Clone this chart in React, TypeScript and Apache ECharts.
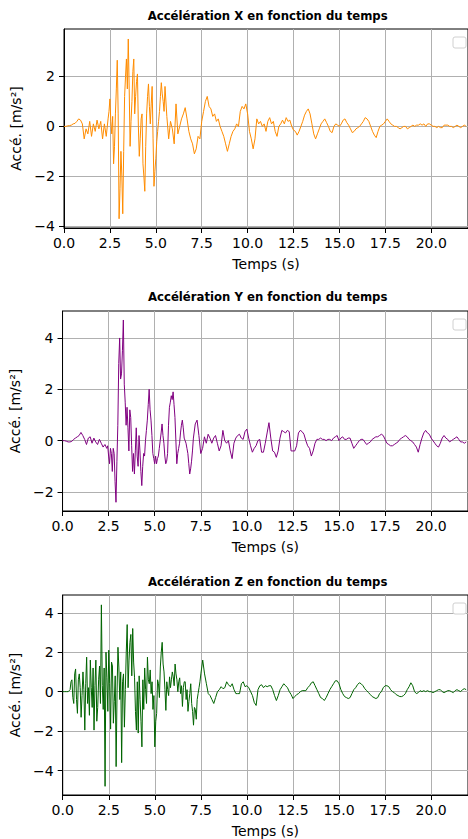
import React, { useEffect, useRef } from "react";
import * as echarts from "echarts";

const DT = 0.1;
const X_TICKS = [0, 2.5, 5, 7.5, 10, 12.5, 15, 17.5, 20];
const TITLES = [
  "Accélération X en fonction du temps",
  "Accélération Y en fonction du temps",
  "Accélération Z en fonction du temps",
];
const Y_TICKS_X = [-4, -2, 0, 2];
const Y_TICKS_Y = [-2, 0, 2, 4];
const Y_TICKS_Z = [-4, -2, 0, 2, 4];

// one row per second, samples every 0.1 s (t = 0.0 … 21.9)
const ACC_X = [
  0, 0, 0.02, 0.03, 0.05, 0.1, 0.12, 0.2, 0.3, 0.25,
  0.1, -0.5, -0.1, -0.3, 0.2, -0.4, 0.1, -0.2, 0.25, -0.1,
  0.2, -0.5, 0.1, -0.4, 0.3, 1.1, -0.3, -1.5, 0.5, 2.65,
  -3.7, -1.0, -3.5, 1.2, 2.7, 3.5, -0.8, 1.0, 2.7, 1.2,
  2.1, -1.2, 0.3, -1.5, -2.6, 0.5, 1.7, 0.1, 1.6, -2.4,
  -1.3, -0.2, 0.6, 1.75, 1.0, 1.6, 0.4, -0.5, 0.2, -0.1,
  -0.7, 0.9, -0.3, 0.0, 0.3, 0.5, 0.75, 0.3, -0.2, -0.5,
  -0.7, -1.1, -0.9, -0.4, -0.5, 0.2, 0.6, 1.0, 1.2, 0.8,
  0.7, 0.4, 0.5, 0.2, 0.3, 0.0, -0.2, -0.4, -0.7, -1.0,
  -0.7, -0.4, -0.2, -0.1, 0.1, 0.0, 0.6, 0.8, 0.7, 0.9,
  0.5, -0.2, -0.5, -0.9, -0.5, 0.3, 0.1, 0.2, 0.0, 0.1,
  -0.2, 0.2, 0.35, 0.1, 0.2, -0.2, -0.4, 0.0, 0.1, 0.25,
  0.1, 0.35, 0.2, 0.25, 0.0, -0.15, -0.2, -0.35, -0.2, 0.0,
  0.2, 0.45, 0.6, 0.7, 0.5, 0.1, -0.3, -0.5, -0.3, -0.1,
  0.1, 0.2, 0.3, 0.15, 0.0, -0.2, -0.25, 0.0, 0.1, 0.05,
  0.0, 0.1, 0.25, 0.3, 0.15, 0.05, -0.1, -0.25, -0.2, -0.1,
  -0.05, 0.0, 0.1, 0.2, 0.35, 0.3, 0.2, 0.0, -0.2, -0.35,
  -0.45, -0.2, 0.0, 0.05, 0.1, 0.2, 0.3, 0.2, 0.1, 0.05,
  0.0, 0.0, -0.05, -0.1, -0.05, 0.0, 0.0, -0.1, -0.05, 0.0,
  0.05, 0.0, 0.05, 0.05, 0.1, 0.05, 0.1, 0.0, 0.1, 0.1,
  0.05, 0.0, 0.0, -0.05, 0.0, -0.05, -0.05, 0.05, 0.05, 0.05,
  0.0, 0.0, -0.05, 0.0, 0.05, 0.0, -0.05, 0.0, 0.05, 0.0,
];
// extra in-between samples (t = 2.45 … 5.45, every 0.1 s) in the busy part
const ACC_X_MID_START = 2.45;
const ACC_X_MID = [
  0.6, 0.2, 0.4, -0.8, 1.5, 0.5,
  -2.5, -2.0, -1.0, 2.0, 1.5, 1.5, 0.2, 2.2, 0.5, 1.8,
  0.0, -0.5, 0.5, -2.0, -0.8, 1.2, 0.8, 0.9, -0.5, -1.8,
  -0.6, 0.2, 1.2, 1.3, 0.6,
];

const ACC_Y = [
  0, 0, -0.02, -0.05, -0.05, -0.03, 0.05, 0.1, 0.15, 0.2,
  0.32, 0.2, 0.05, -0.15, 0.1, 0.15, -0.1, 0.1, -0.05, -0.15,
  0.05, -0.1, -0.25, -0.15, -0.3, -0.6, -0.3, -1.2, -0.5, -2.4,
  0.6, 4.0, 2.6, 4.7, 1.5, 1.3, -0.4, 0.9, -1.2, -1.3,
  0.5, -1.0, -0.4, -1.75, -0.5, 0.0, 0.8, 2.0, 0.8, -0.5,
  -0.9, -0.9, -0.6, 0.0, 0.65, -0.1, -0.9, -0.5, 1.3, 1.75,
  1.9, 0.9, -0.9, -0.3, 0.3, 0.8, 0.1, -0.1, -0.5, -1.3,
  -0.8, 0.1, 0.65, 0.8, 0.2, -0.5, -0.3, 0.15, -0.1, 0.25,
  0.1, -0.1, 0.1, 0.2, -0.1, -0.4, -0.2, 0.4, 0.0, -0.1,
  0.0, -0.4, -0.7, -0.1, 0.1, 0.2, 0.25, 0.1, 0.05, 0.35,
  0.45, 0.1, -0.2, -0.45, -0.3, -0.2, 0.0, 0.05, -0.45, -0.45,
  -0.1, 0.3, 0.7, 0.1, -0.4, -0.45, -0.65, -0.4, 0.1, 0.4,
  0.35, 0.3, 0.4, 0.35, -0.4, -0.4, -0.4, -0.2, 0.3, 0.4,
  0.35, 0.25, 0.0, -0.2, -0.3, -0.6, -0.4, -0.1, 0.05, 0.05,
  0.1, 0.05, 0.05, 0.0, 0.05, 0.05, 0.0, 0.1, 0.15, 0.2,
  0.0, 0.1, 0.15, 0.05, 0.05, 0.1, 0.1, -0.1, -0.3, -0.2,
  -0.1, 0.0, 0.05, 0.05, -0.05, -0.15, -0.1, -0.05, 0.05, 0.1,
  0.15, 0.15, 0.2, 0.25, 0.2, 0.05, -0.1, -0.15, -0.2, -0.2,
  -0.15, -0.1, -0.05, 0.05, 0.1, 0.15, 0.2, 0.15, 0.05, 0.0,
  -0.05, -0.15, -0.25, -0.45, -0.15, 0.1, 0.3, 0.4, 0.3, 0.25,
  0.1, 0.0, -0.1, -0.2, -0.25, -0.1, 0.1, 0.2, 0.1, 0.05,
  -0.05, 0.0, 0.05, 0.1, 0.15, 0.05, -0.05, -0.05, -0.1, -0.05,
];
const ACC_Y_MID_START = 2.45;
const ACC_Y_MID = [
  -0.2, -0.9, -0.5, -0.3, -1.6, -0.8,
  3.0, 2.4, 3.5, 2.2, 0.6, 0.5, 1.2, -0.2, -0.5, -0.4,
  -0.6, 0.2, -1.2, -1.0, -0.6, 0.4, 1.4, 1.2, 0.2, -0.7,
  -0.6, -0.7, -0.3, 0.3, 0.2, -0.6, -0.8, 0.6, 1.5, 1.6,
  1.4, 0.0, -0.5, -0.1, 0.6, 0.5, 0.0, -0.3, -0.9, -1.1,
  -0.4,
];

const ACC_Z = [
  0, 0, 0, 0, 0.1, 0.6, -0.6, 1.15, -1.1, 0.9,
  -1.3, 1.0, -1.95, 1.75, 0.2, 1.6, -0.8, -1.95, 1.6, -0.8,
  1.3, 4.4, -0.9, -4.8, 0.7, 2.1, -1.9, 1.3, -0.5, -3.8,
  2.25, -0.4, -3.6, 0.9, 0.1, 3.4, 1.6, 2.9, 3.2, 0.7,
  -1.95, -2.1, -0.4, -2.8, -0.9, 0.1, 1.75, 0.4, -0.1, -0.9,
  -2.8, -1.1, 0.4, 1.25, 2.5, 1.0, -0.95, 0.1, 0.75, 0.6,
  0.75, 1.4, 0.6, 0.5, -0.1, -0.75, 0.5, -0.4, -1.0, -0.1,
  -0.6, -1.7, -0.9, -0.4, 0.2, 0.9, 1.6, 0.9, 0.4, -0.1,
  -0.2, -0.4, -0.6, -0.3, 0.0, 0.1, 0.25, 0.15, 0.2, 0.5,
  0.35, 0.25, 0.4, 0.1, -0.1, -0.1, -0.1, 0.4, 0.5, 0.25,
  0.3, 0.2, 0.0, -0.2, -0.55, -0.7, 0.1, 0.3, 0.35, 0.2,
  0.3, 0.25, 0.3, 0.3, 0.1, -0.2, -0.45, -0.2, 0.1, 0.25,
  0.4, 0.3, 0.2, 0.0, -0.15, -0.35, -0.25, -0.15, -0.1, 0.0,
  0.05, 0.05, 0.05, 0.2, 0.3, 0.45, 0.5, 0.3, 0.1, -0.1,
  -0.3, -0.35, -0.45, -0.3, -0.1, 0.1, 0.25, 0.4, 0.55, 0.55,
  0.4, 0.1, -0.1, -0.25, -0.3, -0.35, -0.3, -0.1, 0.1, 0.2,
  0.35, 0.45, 0.4, 0.3, 0.15, 0.05, -0.05, -0.15, -0.25, -0.3,
  -0.35, -0.3, -0.1, 0.0, 0.2, 0.3, 0.3, 0.25, 0.1, 0.0,
  -0.05, -0.15, -0.2, -0.25, -0.25, -0.2, -0.1, 0.1, 0.25, 0.45,
  0.3, 0.0, -0.1, -0.05, 0.05, 0.0, 0.05, 0.0, 0.05, 0.0,
  0.0, -0.05, 0.0, 0.05, 0.1, 0.1, 0.0, -0.05, 0.0, 0.05,
  0.05, 0.0, -0.05, 0.05, 0.1, 0.05, 0.0, 0.1, 0.15, 0.1,
];
const ACC_Z_MID_START = 0.45;
const ACC_Z_MID = [
  0.5, -0.3, 0.9, -0.4, 0.6, 0.2,
  -0.2, 0.1, 0.4, -0.6, -1.2, 0.2, 1.2, 0.3, -1.5, 0.6,
  -0.6, 0.3, 1.2, 2.0, -1.0, 0.4, 1.5, -1.6, 0.8, 0.0,
  1.2, 1.0, 0.5, -1.8, 2.0, 0.2, 2.5, 0.8, 1.5, -1.0,
  0.5, 0.8, -1.5, 0.6, 1.2, -0.6, 0.6, 1.1, 0.5, -0.2,
  -1.5, 0.6, -0.3, 2.0, 1.4, 0.1, 0.5, -0.2, 0.2, 1.0,
  0.3, 0.9, 0.0, 0.7, 0.3, 0.2, 0.5, 0.1, -0.5, 0.4,
  -1.0, -0.8, -1.4, -0.1, 0.5,
];

const FONT = "DejaVu Sans";

function buildPairs(base: number[], mid: number[], midStart: number): number[][] {
  const pts: number[][] = base.map((v, k) => [Math.round(k * DT * 100) / 100, v]);
  mid.forEach((v, k) => pts.push([Math.round((midStart + k * DT) * 100) / 100, v]));
  pts.sort((a, b) => a[0] - b[0]);
  return pts;
}

const PANELS = [
  { values: ACC_X, mid: ACC_X_MID, midStart: ACC_X_MID_START, color: "#ff8c00", yMin: -4.07, yMax: 3.9, yTicks: Y_TICKS_X, left: 64, top: 29, width: 407.5, height: 199, titleY: 10, nameGap: 39 },
  { values: ACC_Y, mid: ACC_Y_MID, midStart: ACC_Y_MID_START, color: "#800080", yMin: -2.74, yMax: 5.05, yTicks: Y_TICKS_Y, left: 62.5, top: 311, width: 410, height: 200, titleY: 291, nameGap: 37.5 },
  { values: ACC_Z, mid: ACC_Z_MID, midStart: ACC_Z_MID_START, color: "#006400", yMin: -5.24, yMax: 4.9, yTicks: Y_TICKS_Z, left: 62.7, top: 595, width: 409, height: 201, titleY: 576, nameGap: 38 },
];

const fmtY = (v: number) => (v < 0 ? "\u2212" + Math.abs(v) : String(v));

export default function App() {
  const ref = useRef<HTMLDivElement>(null);
  useEffect(() => {
    if (!ref.current) return;
    const chart = echarts.init(ref.current, undefined, { renderer: "svg" });
    const option: any = {
      animation: false,
      backgroundColor: "#fff",
      title: PANELS.map((p, i) => ({
        text: TITLES[i],
        left: 267.7,
        top: p.titleY,
        textAlign: "center",
        padding: 0,
        textStyle: { fontFamily: FONT, fontSize: 11.7, fontWeight: "bold", color: "#000" },
      })),
      grid: PANELS.map((p) => ({
        left: p.left,
        top: p.top,
        width: p.width,
        height: p.height,
        show: true,
        borderColor: "#000",
        borderWidth: 1,
        containLabel: false,
      })),
      xAxis: PANELS.map((p, i) => ({
        type: "value",
        gridIndex: i,
        min: 0,
        max: 22,
        name: "Temps (s)",
        nameLocation: "middle",
        nameGap: 29,
        nameTextStyle: { fontFamily: FONT, fontSize: 14, color: "#000" },
        axisLine: { show: true, onZero: false, lineStyle: { color: "#000", width: 1 } },
        axisTick: { show: true, length: 5, customValues: X_TICKS, lineStyle: { color: "#000", width: 1 } },
        axisLabel: {
          customValues: X_TICKS,
          margin: 8,
          fontFamily: FONT,
          fontSize: 14,
          color: "#000",
          formatter: (v: number) => v.toFixed(1),
        },
        splitLine: { show: true, lineStyle: { color: "#b0b0b0", width: 1 } },
      })),
      yAxis: PANELS.map((p, i) => ({
        type: "value",
        gridIndex: i,
        min: p.yMin,
        max: p.yMax,
        name: "Accé. [m/s²]",
        nameLocation: "middle",
        nameRotate: 90,
        nameGap: p.nameGap,
        nameTextStyle: { fontFamily: FONT, fontSize: 14, color: "#000" },
        axisLine: { show: true, onZero: false, lineStyle: { color: "#000", width: 1 } },
        axisTick: { show: true, length: 5, customValues: p.yTicks, lineStyle: { color: "#000", width: 1 } },
        axisLabel: {
          customValues: p.yTicks,
          margin: 9,
          fontFamily: FONT,
          fontSize: 14,
          color: "#000",
          formatter: (v: number) => fmtY(v),
        },
        splitLine: { show: true, lineStyle: { color: "#b0b0b0", width: 1 } },
      })),
      series: PANELS.map((p, i) => ({
        type: "line",
        xAxisIndex: i,
        yAxisIndex: i,
        showSymbol: false,
        symbol: "none",
        data: buildPairs(p.values, p.mid, p.midStart),
        lineStyle: { color: p.color, width: 1 },
        itemStyle: { color: p.color },
        clip: true,
      })),
      graphic: PANELS.map((p) => ({
        type: "rect",
        shape: { x: 453, y: p.top + 8, width: 13, height: 11, r: 2 },
        style: { fill: "#fff", stroke: "#d0d0d0", lineWidth: 1 },
        z: 100,
      })),
    };
    chart.setOption(option);
    return () => chart.dispose();
  }, []);
  return (
    <div style={{ position: "absolute", left: 0, top: 0, width: 468, height: 839, overflow: "hidden", background: "#fff" }}>
      <div ref={ref} style={{ width: 468, height: 839 }} />
    </div>
  );
}
